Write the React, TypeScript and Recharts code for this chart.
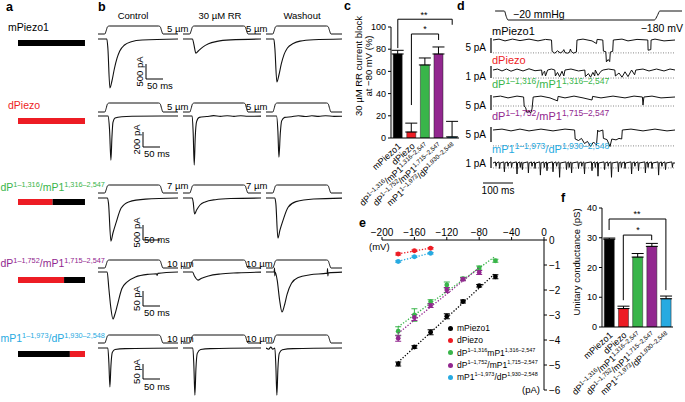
import React from 'react';
import {
  BarChart, Bar, XAxis, YAxis, Cell, ErrorBar, ReferenceLine,
  LineChart, Line, ScatterChart, Scatter,
} from 'recharts';

const FONT = '"Liberation Sans", Arial, Helvetica, sans-serif';

type Part = [string, boolean];
type Pt = [number, number];

// ---- constructs ----
const constructKeys = ['mPiezo1', 'dPiezo', 'dP1316', 'dP1752', 'mP1973'];
const constructColors = ['#000000', '#ed1c24', '#39b54a', '#92278f', '#27aae1'];
const constructLabels: Part[][] = [
  [['mPiezo1', false]],
  [['dPiezo', false]],
  [['dP', false], ['1–1,316', true], ['/mP1', false], ['1,316–2,547', true]],
  [['dP', false], ['1–1,752', true], ['/mP1', false], ['1,715–2,547', true]],
  [['mP1', false], ['1–1,973', true], ['/dP', false], ['1,930–2,548', true]],
];
const ivLegendLabels: Part[][] = [
  [['mPiezo1', false]],
  [['dPiezo', false]],
  [['dP', false], ['1–1,316', true], ['mP1', false], ['1,316–2,547', true]],
  [['dP', false], ['1–1,752', true], ['/mP1', false], ['1,715–2,547', true]],
  [['mP1', false], ['1–1,973', true], ['/dP', false], ['1,930–2,548', true]],
];

// panel a: chimera junctions (residues)
const splitResidue = [2547, 2548, 1316, 1752, 1973];
const totalResidues = [2547, 2548, 2547, 2547, 2548];
const firstSegColor = ['#000000', '#ed1c24', '#ed1c24', '#ed1c24', '#000000'];
const secondSegColor = ['#000000', '#ed1c24', '#000000', '#000000', '#ed1c24'];

// panel c: RR block (%)
const rrBlock = [75.7, 5.4, 65.8, 75.7, 1];
const rrBlockSem = [3.3, 8, 6.3, 6.3, 14];

// panel f: unitary conductance (pS)
const conductance = [29.5, 6.2, 23.5, 27.1, 9.5];
const conductanceSem = [0.4, 0.8, 1.2, 1.0, 0.9];

// panel e: I-V
const ivVoltage = [-180, -160, -140, -120, -100, -80, -60];
const ivMPiezo1 = [-4.96, -4.28, -3.69, -3.05, -2.46, -1.83, -1.47];
const ivMPiezo1Sem = [0.08, 0.05, 0.1, 0.1, 0.06, 0.05, 0.08];
const ivDPiezo = [-0.56, -0.43, -0.33];
const ivDPiezoSem = [0.04, 0.03, 0.03];
const ivDP1316 = [-3.65, -3.0, -2.47, -1.8, -1.55, -1.12, -0.83];
const ivDP1316Sem = [0.18, 0.25, 0.08, 0.12, 0.06, 0.08, 0.06];
const ivDP1752 = [-3.93, -3.1, -2.62, -2.0, -1.57, -1.3];
const ivDP1752Sem = [0.12, 0.12, 0.08, 0.1, 0.06, 0.08];
const ivMP1973 = [-0.86, -0.67, -0.53];
const ivMP1973Sem = [0.03, 0.03, 0.03];

// panel b: stimulus (fraction of step) and whole-cell currents (ms, pA)
const bStimulus: Pt[] = [[0, 0], [20, 0], [24, 0.4], [28, 0.9], [33, 1], [178, 1], [183, 0.9], [187, 0.4], [191, 0], [240, 0]];
const bMPiezo1Control: Pt[] = [[0, 0], [26, 0], [29, -300], [35, -1630], [41, -1400], [48, -1000], [56, -640], [64, -400], [78, -200], [98, -90], [130, -35], [240, 0]];
const bMPiezo1RR: Pt[] = [[0, 0], [28, 0], [32, -180], [38, -470], [45, -400], [58, -270], [75, -160], [100, -80], [140, -30], [240, 0]];
const bMPiezo1Wash: Pt[] = [[0, 0], [23, 0], [26, -300], [32, -1430], [38, -1200], [45, -830], [53, -520], [63, -300], [80, -150], [100, -70], [140, -25], [240, 0]];
const bDPiezoControl: Pt[] = [[0, 0], [30, 0], [34, -200], [38, -630], [41, -300], [44, -90], [50, -30], [70, -10], [100, -4], [240, 0]];
const bDPiezoRR: Pt[] = [[0, 0], [27, 0], [30, -250], [33, -700], [36, -300], [40, -80], [48, -20], [70, -8], [90, 5], [110, -6], [130, 4], [150, -5], [170, 3], [190, -4], [240, 0]];
const bDPiezoWash: Pt[] = [[0, 0], [31, 0], [35, -220], [38, -590], [42, -250], [46, -70], [55, -20], [75, -10], [95, 4], [115, -8], [135, 3], [155, -6], [175, 4], [200, -5], [240, 0]];
const bDP1316Control: Pt[] = [[0, 0], [28, 0], [31, -200], [38, -1540], [44, -1250], [53, -890], [68, -360], [90, -140], [140, -40], [240, 0]];
const bDP1316RR: Pt[] = [[0, 0], [27, 0], [30, -150], [34, -570], [40, -430], [50, -250], [65, -140], [95, -60], [140, -20], [240, 0]];
const bDP1316Wash: Pt[] = [[0, 0], [26, 0], [29, -200], [35, -1430], [41, -1150], [50, -800], [65, -330], [88, -130], [140, -35], [240, 0]];
const bDP1752Control: Pt[] = [[0, 0], [27, 0], [32, -60], [38, -130], [44, -168], [50, -150], [57, -118], [70, -60], [85, -36], [110, -18], [150, -8], [172, -6], [174, -12], [176, -5], [240, 0]];
const bDP1752RR: Pt[] = [[0, 0], [28, 0], [34, -15], [44, -29], [55, -22], [75, -14], [110, -7], [160, -3], [240, 0]];
const bDP1752Wash: Pt[] = [[0, 0], [24, 0], [25, 14], [26, -14], [27, 0], [33, -30], [40, -100], [47, -143], [54, -120], [62, -80], [75, -40], [95, -20], [130, -10], [180, -4], [181, 12], [182, -14], [183, -3], [240, 0]];
const bMP1973Control: Pt[] = [[0, 0], [29, 0], [32, -50], [35, -130], [38, -60], [42, -15], [50, -5], [80, -2], [240, 0]];
const bMP1973RR: Pt[] = [[0, 0], [29, 0], [32, -60], [35, -157], [38, -70], [42, -18], [52, -5], [80, -2], [240, 0]];
const bMP1973Wash: Pt[] = [[0, 0], [8, -4], [14, 3], [20, -4], [26, 0], [29, -60], [32, -157], [35, -70], [39, -18], [48, -6], [80, -2], [240, 0]];

const bTraces: Pt[][][] = [
  [bMPiezo1Control, bMPiezo1RR, bMPiezo1Wash],
  [bDPiezoControl, bDPiezoRR, bDPiezoWash],
  [bDP1316Control, bDP1316RR, bDP1316Wash],
  [bDP1752Control, bDP1752RR, bDP1752Wash],
  [bMP1973Control, bMP1973RR, bMP1973Wash],
];
const bColumnTitles = ['Control', '30 µM RR', 'Washout'];
const bStepSizes = ['5 µm', '5 µm', '7 µm', '10 µm', '10 µm'];
const bScaleLabels = ['500 pA', '200 pA', '500 pA', '50 pA', '50 pA'];

// panel d: pressure step (mmHg) and single-channel traces (ms, pA)
const dPressure: Pt[] = [[7, 0], [38, 0], [44, -12], [50, -20], [538, -20], [548, -10], [556, 0], [630, 0]];
const dMPiezo1: Pt[] = [[0, 0], [20, 0.3], [40, -0.3], [65, 0.3], [90, -0.2], [120, 0.3], [150, -0.3], [175, 0.2], [195, 0], [197, -3.8], [206, -4.4], [215, -3.6], [224, -4.3], [232, -3.9], [236, -3.2], [240, -4.2], [248, -4.4], [255, -4.1], [258, -3.0], [261, -3.8], [268, -4.4], [278, -4], [280, 0], [300, 0.3], [330, -0.3], [345, -1.2], [347, 0.2], [366, 0], [368, -3.7], [376, -3.9], [378, -7.3], [384, -6.5], [389, -7.2], [391, -4], [399, -3.8], [401, 0], [430, 0.3], [450, -0.3], [480, 0.2], [516, 0], [517, -3.4], [526, -3.2], [527, 0], [540, 0.3], [570, -0.3], [607, 0]];
const dDPiezo: Pt[] = [[0, 0], [15, 0.08], [30, -0.08], [45, 0.08], [60, -0.1], [80, 0.08], [100, -0.08], [120, 0.1], [140, -0.06], [162, 0], [164, -0.45], [168, -0.2], [172, -0.1], [175, -0.5], [182, 0], [195, 0.08], [206, 0], [208, -0.5], [215, -0.2], [222, -0.55], [230, -0.1], [236, -0.5], [240, 0], [260, 0.08], [285, -0.08], [306, 0], [308, -0.55], [318, -0.3], [325, -0.6], [333, -0.2], [339, -0.5], [341, 0], [350, -0.45], [360, -0.1], [367, 0], [385, 0.08], [406, 0], [408, -0.5], [420, -0.25], [430, -0.6], [440, -0.15], [450, -0.55], [462, 0], [472, -0.4], [476, 0], [500, 0.08], [520, -0.08], [545, 0.08], [570, -0.08], [590, 0.08], [607, 0]];
const dDP1316: Pt[] = [[0, 0], [25, 0.3], [50, -0.3], [80, 0.3], [102, 0], [104, -3], [109, -3.6], [113, -5.2], [120, -4.6], [126, -5.3], [130, -4], [134, 0], [160, 0.3], [190, -0.3], [215, -1.3], [217, 0.2], [240, -0.3], [270, 0.3], [300, -0.3], [330, -1], [332, 0.2], [360, -0.3], [400, 0.3], [440, -0.3], [470, 0.3], [498, 0], [500, -2.7], [503, 0], [530, 0.3], [560, -0.3], [607, 0]];
const dDP1752: Pt[] = [[0, 0], [30, 0.3], [60, -0.3], [90, 0.3], [120, -0.3], [160, 0.3], [200, -0.3], [240, 0.3], [272, 0], [274, -3], [285, -3.5], [295, -2.8], [305, -4.5], [315, -3.8], [325, -5.5], [335, -4], [345, -5], [349, 0], [352, -0.5], [366, 0], [368, -2.8], [380, -3.2], [390, -5.5], [396, -3], [410, -3.3], [420, -2.8], [429, -3], [431, 0], [460, 0.3], [500, -0.3], [540, 0.3], [580, -0.3], [607, 0]];
const dMP1973SpikeTimes = [10, 22, 38, 50, 62, 80, 91, 98, 118, 130, 140, 158, 171, 180, 200, 212, 222, 245, 254, 262, 285, 296, 305, 330, 341, 350, 372, 384, 395, 418, 428, 440, 462, 473, 485, 508, 517, 530, 552, 563, 575, 598];
const dMP1973SpikeDepths = [-0.3, -0.5, -0.8, -0.3, -0.4, -1.0, -0.4, -0.6, -0.9, -0.3, -0.5, -1.1, -0.4, -0.7, -0.8, -0.3, -1.3, -0.6, -0.4, -0.9, -0.5, -0.3, -1.0, -0.7, -0.4, -1.2, -0.6, -0.3, -1.3, -0.8, -0.4, -0.5, -1.0, -0.3, -0.7, -0.9, -0.4, -0.5, -1.1, -0.3, -0.6, -0.4];
const dMP1973: Pt[] = [
  [0, 0],
  ...dMP1973SpikeTimes.flatMap((t, k): Pt[] => [[t - 2, 0.1], [t, dMP1973SpikeDepths[k]], [t + 2, 0]]),
  [607, 0],
];
const dTraces = [dMPiezo1, dDPiezo, dDP1316, dDP1752, dMP1973];
const dOpenLevel = [-4.3, -0.67, -3, -5.3, -0.45];
const dScaleLabels = ['5 pA', '1 pA', '5 pA', '5 pA', '1 pA'];

// ---- layout ----
const B_PX_PER_MS = 0.34;
const bRows = [
  { top: 22, height: 72, stimBase: 34, stimTop: 26, curBase: 39, ppa: 0.03, barTop: 64, textY: 89, label: 31, stepY: 32 },
  { top: 100, height: 70, stimBase: 112, stimTop: 103, curBase: 116, ppa: 0.07, barTop: 132, textY: 157, label: 109, stepY: 110 },
  { top: 182, height: 64, stimBase: 193, stimTop: 185, curBase: 198, ppa: 0.028, barTop: 225, textY: 243, label: 191, stepY: 189 },
  { top: 257, height: 66, stimBase: 268, stimTop: 260, curBase: 272, ppa: 0.28, barTop: 291, textY: 316, label: 267, stepY: 267 },
  { top: 332, height: 68, stimBase: 343, stimTop: 335, curBase: 348, ppa: 0.3, barTop: 364, textY: 390, label: 342, stepY: 342 },
];
const bCols = [{ left: 98, width: 80 }, { left: 183, width: 78 }, { left: 266, width: 76 }];
const aBarTops = [40, 118, 199, 277, 351];

const D_LEFT = 493;
const D_WIDTH = 182;
const D_PX_PER_MS = 0.3;
const dRows = [
  { top: 34, height: 34, base: 40, ppa: 3, labelY: 35, scaleY: 51, barA: 38, barB: 53 },
  { top: 62, height: 18, base: 70, ppa: 12, labelY: 64, scaleY: 80, barA: 66, barB: 78 },
  { top: 90, height: 26, base: 97, ppa: 3, labelY: 88, scaleY: 109, barA: 95, barB: 110 },
  { top: 123, height: 29, base: 130, ppa: 3, labelY: 120, scaleY: 138, barA: 127, barB: 142 },
  { top: 156, height: 22, base: 163, ppa: 11, labelY: 153, scaleY: 167, barA: 157, barB: 168 },
];

const toPts = (arr: Pt[]) => arr.map(([t, v]) => ({ t, v }));
const minus = (v: number) => (v < 0 ? `−${Math.abs(v)}` : `${v}`);

function Rich({ parts, size, sup }: { parts: Part[]; size: number; sup: number }) {
  const shift = size * 0.36;
  let raised = false;
  return (
    <>
      {parts.map(([txt, isSup], k) => {
        let dy = 0;
        if (isSup && !raised) { dy = -shift; raised = true; }
        else if (!isSup && raised) { dy = shift; raised = false; }
        return <tspan key={k} dy={dy} fontSize={isSup ? sup : size}>{txt}</tspan>;
      })}
    </>
  );
}

function ConstructTick(props: any) {
  const { x, y, payload } = props;
  const i = constructKeys.indexOf(payload.value);
  return (
    <g transform={`translate(${x + 4},${y + 1})`}>
      <text transform="rotate(-42)" textAnchor="end" dy="0.72em" fill="#000" fontFamily={FONT} fontSize={9}>
        <Rich parts={constructLabels[i]} size={9} sup={6.2} />
      </text>
    </g>
  );
}

function ConstructBar({ i }: { i: number }) {
  const data = [{ name: constructKeys[i], first: splitResidue[i], second: totalResidues[i] - splitResidue[i] }];
  return (
    <div style={{ position: 'absolute', left: 18, top: aBarTops[i] }}>
      <BarChart layout="vertical" width={67} height={6} data={data} margin={{ top: 0, right: 0, bottom: 0, left: 0 }} barCategoryGap={0}>
        <XAxis type="number" domain={[0, 2548]} hide />
        <YAxis type="category" dataKey="name" hide />
        <Bar dataKey="first" stackId="s" fill={firstSegColor[i]} isAnimationActive={false} />
        <Bar dataKey="second" stackId="s" fill={secondSegColor[i]} isAnimationActive={false} />
      </BarChart>
    </div>
  );
}

function TraceCell({ row, col }: { row: number; col: number }) {
  const r = bRows[row];
  const c = bCols[col];
  const spx = r.stimBase - r.stimTop;
  const stimDomain = [-(r.top + r.height - r.stimBase) / spx, (r.stimBase - r.top) / spx];
  const curDomain = [-(r.top + r.height - r.curBase) / r.ppa, (r.curBase - r.top) / r.ppa];
  return (
    <div style={{ position: 'absolute', left: c.left, top: r.top }}>
      <LineChart width={c.width} height={r.height} margin={{ top: 0, right: 0, bottom: 0, left: 0 }}>
        <XAxis type="number" dataKey="t" domain={[0, c.width / B_PX_PER_MS]} hide allowDataOverflow />
        <YAxis yAxisId="s" type="number" domain={stimDomain} hide allowDataOverflow />
        <YAxis yAxisId="i" type="number" domain={curDomain} hide allowDataOverflow />
        <Line yAxisId="s" data={toPts(bStimulus)} dataKey="v" type="monotone" stroke="#111" strokeWidth={1} dot={false} isAnimationActive={false} />
        <Line yAxisId="i" data={toPts(bTraces[row][col])} dataKey="v" type="monotone" stroke="#111" strokeWidth={1.1} dot={false} isAnimationActive={false} />
      </LineChart>
    </div>
  );
}

function ChannelTrace({ row }: { row: number }) {
  const r = dRows[row];
  const domain = [-(r.top + r.height - r.base) / r.ppa, (r.base - r.top) / r.ppa];
  return (
    <div style={{ position: 'absolute', left: D_LEFT, top: r.top }}>
      <LineChart width={D_WIDTH} height={r.height} margin={{ top: 0, right: 0, bottom: 0, left: 0 }}>
        <XAxis type="number" dataKey="t" domain={[0, D_WIDTH / D_PX_PER_MS]} hide allowDataOverflow />
        <YAxis type="number" domain={domain} hide allowDataOverflow />
        <ReferenceLine y={dOpenLevel[row]} stroke="#888" strokeDasharray="1 1.5" />
        <Line data={toPts(dTraces[row])} dataKey="v" type="linear" stroke="#111" strokeWidth={1} dot={false} isAnimationActive={false} />
      </LineChart>
    </div>
  );
}

function PressureStep() {
  const top = 6;
  const height = 18;
  const base = 11;
  const ppu = 0.45;
  return (
    <div style={{ position: 'absolute', left: D_LEFT, top }}>
      <LineChart width={192} height={height} margin={{ top: 0, right: 0, bottom: 0, left: 0 }}>
        <XAxis type="number" dataKey="t" domain={[0, 192 / D_PX_PER_MS]} hide allowDataOverflow />
        <YAxis type="number" domain={[-(top + height - base) / ppu, (base - top) / ppu]} hide allowDataOverflow />
        <Line data={toPts(dPressure)} dataKey="v" type="monotone" stroke="#111" strokeWidth={1} dot={false} isAnimationActive={false} />
      </LineChart>
    </div>
  );
}

type Bracket = { from: string; to: string; y: number; left: number; right: number };
const cBrackets: Bracket[] = [
  { from: 'mPiezo1', to: 'mP1973', y: 107, left: 81, right: 102 },
  { from: 'dPiezo', to: 'dP1752', y: 93.7, left: 29.7, right: 88.3 },
];
const fBrackets: Bracket[] = [
  { from: 'mPiezo1', to: 'mP1973', y: 36.3, left: 32.6, right: 12.4 },
  { from: 'dPiezo', to: 'dP1752', y: 30.9, left: 9, right: 29.2 },
];

function bracketLines(list: Bracket[]) {
  return list.flatMap((b, k) => [
    <ReferenceLine key={`h${k}`} segment={[{ x: b.from, y: b.y }, { x: b.to, y: b.y }]} stroke="#000" strokeWidth={1} ifOverflow="visible" />,
    <ReferenceLine key={`l${k}`} segment={[{ x: b.from, y: b.y }, { x: b.from, y: b.left }]} stroke="#000" strokeWidth={1} ifOverflow="visible" />,
    <ReferenceLine key={`r${k}`} segment={[{ x: b.to, y: b.y }, { x: b.to, y: b.right }]} stroke="#000" strokeWidth={1} ifOverflow="visible" />,
  ]);
}

function GroupBars({ values, sems, ticks, brackets, width, height, yWidth, top, xHeight }: any) {
  const table = constructKeys.map((key, i) => ({ key, v: values[i], e: [0, sems[i]] }));
  return (
    <BarChart width={width} height={height} data={table} margin={{ top, right: 2, bottom: 0, left: 0 }} barCategoryGap="16%">
      <XAxis dataKey="key" interval={0} tickLine={false} axisLine={{ stroke: '#000' }} height={xHeight} tick={(p: any) => <ConstructTick {...p} />} />
      <YAxis
        domain={[ticks[0], ticks[ticks.length - 1]]}
        ticks={ticks}
        width={yWidth}
        tickSize={3}
        tickMargin={2}
        axisLine={{ stroke: '#000' }}
        tickLine={{ stroke: '#000' }}
        tick={{ fontSize: 9, fill: '#000', fontFamily: FONT }}
        allowDataOverflow
      />
      <Bar dataKey="v" isAnimationActive={false} stroke="#222" strokeWidth={0.5}>
        {constructColors.map((c, i) => <Cell key={i} fill={c} />)}
        <ErrorBar dataKey="e" width={6} stroke="#000" strokeWidth={1} direction="y" />
      </Bar>
      {bracketLines(brackets)}
    </BarChart>
  );
}

const ivSeries = [
  { volts: ivVoltage, amps: ivMPiezo1, sem: ivMPiezo1Sem },
  { volts: ivVoltage.slice(0, 3), amps: ivDPiezo, sem: ivDPiezoSem },
  { volts: ivVoltage, amps: ivDP1316, sem: ivDP1316Sem },
  { volts: ivVoltage.slice(0, 6), amps: ivDP1752, sem: ivDP1752Sem },
  { volts: ivVoltage.slice(0, 3), amps: ivMP1973, sem: ivMP1973Sem },
];

function IVChart() {
  return (
    <ScatterChart width={224} height={210} margin={{ top: 30, right: 0, bottom: 10, left: 42 }}>
      <XAxis
        type="number" dataKey="mv" orientation="top" domain={[-200, 0]} ticks={[-200, -160, -120, -80, -40, 0]}
        tickFormatter={minus} height={20} tickSize={3} tickMargin={1}
        axisLine={{ stroke: '#000' }} tickLine={{ stroke: '#000' }}
        tick={{ fontSize: 10, fill: '#000', fontFamily: FONT }} allowDataOverflow
      />
      <YAxis
        type="number" dataKey="pa" orientation="right" domain={[-6, 0]} ticks={[0, -1, -2, -3, -4, -5, -6]}
        tickFormatter={minus} width={20} tickSize={3} tickMargin={2}
        axisLine={{ stroke: '#000' }} tickLine={{ stroke: '#000' }}
        tick={{ fontSize: 10, fill: '#000', fontFamily: FONT }} allowDataOverflow
      />
      {ivSeries.map((s, k) => (
        <Scatter
          key={k}
          data={s.volts.map((mv, j) => ({ mv, pa: s.amps[j], sem: s.sem[j] }))}
          fill={constructColors[k]}
          shape={(p: any) => <circle cx={p.cx} cy={p.cy} r={2.4} fill={constructColors[k]} />}
          line={{ stroke: constructColors[k], strokeWidth: 1.3, strokeDasharray: '1.3 1.7' }}
          lineType="fitting"
          isAnimationActive={false}
        >
          <ErrorBar dataKey="sem" direction="y" width={3} stroke={constructColors[k]} strokeWidth={1} />
        </Scatter>
      ))}
    </ScatterChart>
  );
}

function IVLegend() {
  return (
    <div style={{ position: 'absolute', left: 448, top: 322, fontFamily: FONT, fontSize: 8.5, lineHeight: '12.3px', whiteSpace: 'nowrap' }}>
      {ivLegendLabels.map((parts, i) => (
        <div key={i} style={{ display: 'flex', alignItems: 'center', height: 12.3 }}>
          <span style={{ width: 5, height: 5, borderRadius: '50%', background: constructColors[i], marginRight: 4, display: 'inline-block' }} />
          <span>
            {parts.map(([t, s], k) => s
              ? <sup key={k} style={{ fontSize: 5.5, verticalAlign: 'super', lineHeight: 0 }}>{t}</sup>
              : <span key={k}>{t}</span>)}
          </span>
        </div>
      ))}
    </div>
  );
}

function Annotations() {
  const letter = { fontWeight: 700, fontSize: 12.5, fill: '#000' } as const;
  const bColCenters = [133, 220, 302];
  return (
    <svg width={685} height={402} style={{ position: 'absolute', left: 0, top: 0, pointerEvents: 'none' }} fontFamily={FONT}>
      <text x={6} y={11} {...letter}>a</text>
      <text x={98} y={11} {...letter}>b</text>
      <text x={344} y={10} {...letter}>c</text>
      <text x={457} y={10} {...letter}>d</text>
      <text x={359} y={227} {...letter}>e</text>
      <text x={561} y={202} {...letter}>f</text>

      {/* panel a names */}
      {constructLabels.map((parts, i) => (
        <text key={i} x={i < 2 ? 8 : 0.5} y={bRows[i].label} fill={constructColors[i]} fontSize={10.5}>
          <Rich parts={parts} size={10.5} sup={7.3} />
        </text>
      ))}

      {/* panel b titles, step sizes, scale bars */}
      {bColumnTitles.map((t, i) => (
        <text key={t} x={bColCenters[i]} y={19} textAnchor="middle" fontSize={9.5}>{t}</text>
      ))}
      {bRows.map((r, i) => (
        <g key={i}>
          <text x={167} y={r.stepY} fontSize={9.5}>{bStepSizes[i]}</text>
          <text x={246} y={r.stepY} fontSize={9.5}>{bStepSizes[i]}</text>
          <path d={`M${i === 0 ? 146 : 143},${r.barTop} V${r.barTop + 15} H${(i === 0 ? 146 : 143) + 17}`} fill="none" stroke="#000" strokeWidth={1} />
          <text transform={`translate(${i === 0 ? 143 : 140},${r.barTop + 7.5}) rotate(-90)`} textAnchor="middle" fontSize={9.5}>{bScaleLabels[i]}</text>
          <text x={i === 0 ? 147 : 144} y={r.textY} fontSize={9.5}>50 ms</text>
        </g>
      ))}

      {/* panel c labels */}
      <text transform="translate(362,66) rotate(-90)" textAnchor="middle" fontSize={9.5}>30 µM RR current block</text>
      <text transform="translate(372,66) rotate(-90)" textAnchor="middle" fontSize={9.5}>at −80 mV (%)</text>
      <text x={424} y={18} textAnchor="middle" fontSize={9}>**</text>
      <text x={425} y={32} textAnchor="middle" fontSize={9}>*</text>

      {/* panel d labels */}
      <text x={513} y={18} fontSize={10.5}>−20 mmHg</text>
      <text x={683} y={32} textAnchor="end" fontSize={10.5}>−180 mV</text>
      {dRows.map((r, i) => (
        <g key={i}>
          <text x={492} y={r.labelY} fill={constructColors[i]} fontSize={11}>
            <Rich parts={constructLabels[i]} size={11} sup={8.5} />
          </text>
          <text x={486} y={r.scaleY} textAnchor="end" fontSize={10}>{dScaleLabels[i]}</text>
          <line x1={491} x2={491} y1={r.barA} y2={r.barB} stroke="#000" strokeWidth={1.2} />
        </g>
      ))}
      <line x1={483} x2={513} y1={183} y2={183} stroke="#000" strokeWidth={1} />
      <text x={498} y={194} textAnchor="middle" fontSize={10}>100 ms</text>

      {/* panel e units */}
      <text x={369} y={250} fontSize={9.5}>(mV)</text>
      <text x={522} y={393} fontSize={9.5}>(pA)</text>

      {/* panel f labels */}
      <text transform="translate(580,262) rotate(-90)" textAnchor="middle" fontSize={9.5}>Unitary conductance (pS)</text>
      <text x={637} y={217} textAnchor="middle" fontSize={9}>**</text>
      <text x={638} y={233} textAnchor="middle" fontSize={9}>*</text>
    </svg>
  );
}

export default function App() {
  return (
    <div style={{ position: 'fixed', left: 0, top: 0, width: 685, height: 402, background: '#fff', overflow: 'hidden', fontFamily: FONT }}>
      {constructKeys.map((_, i) => <ConstructBar key={i} i={i} />)}
      {bRows.map((_, r) => bCols.map((__, c) => <TraceCell key={`${r}-${c}`} row={r} col={c} />))}

      <div style={{ position: 'absolute', left: 340, top: 0 }}>
        <GroupBars values={rrBlock} sems={rrBlockSem} ticks={[0, 20, 40, 60, 80, 100]} brackets={cBrackets}
          width={121} height={222} yWidth={51} top={27} xHeight={84} />
      </div>

      <PressureStep />
      {dRows.map((_, r) => <ChannelTrace key={r} row={r} />)}

      <div style={{ position: 'absolute', left: 340, top: 190 }}>
        <IVChart />
      </div>
      <IVLegend />

      <div style={{ position: 'absolute', left: 555, top: 190 }}>
        <GroupBars values={conductance} sems={conductanceSem} ticks={[0, 10, 20, 30, 40]} brackets={fBrackets}
          width={120} height={212} yWidth={47} top={18} xHeight={75} />
      </div>

      <Annotations />
    </div>
  );
}
